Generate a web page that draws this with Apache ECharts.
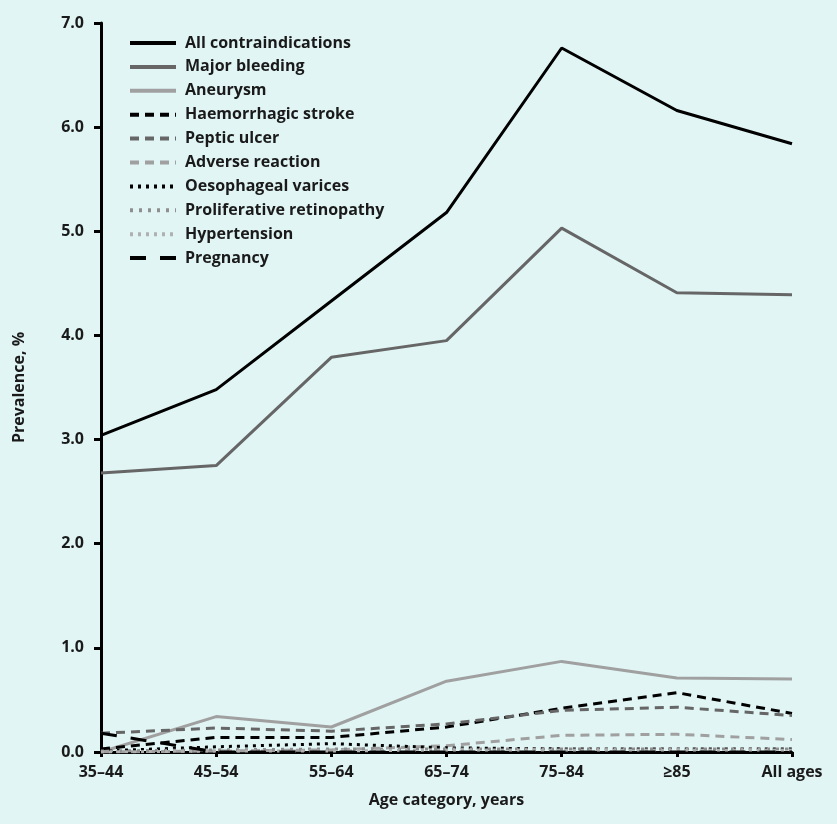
<!DOCTYPE html>
<html><head><meta charset="utf-8">
<script src="https://cdn.jsdelivr.net/npm/echarts@6/dist/echarts.min.js"></script>
<style>html,body{margin:0;padding:0;background:#e0f5f4;}#c{width:837px;height:824px;}</style>
</head><body><div id="c"></div>
<script>
const categories = ['35\u201344','45\u201354','55\u201364','65\u201374','75\u201384','\u226585','All ages'];
const yTicks = [0,1,2,3,4,5,6,7];
const allContra = [3.04,3.48,4.33,5.18,6.76,6.16,5.84];
const majorBleeding = [2.68,2.75,3.79,3.95,5.03,4.41,4.39];
const aneurysm = [0.00,0.34,0.24,0.68,0.87,0.71,0.70];
const haemStroke = [0.03,0.14,0.14,0.24,0.42,0.57,0.37];
const pepticUlcer = [0.18,0.23,0.20,0.27,0.40,0.43,0.35];
const adverseReaction = [0.00,0.01,0.02,0.06,0.16,0.17,0.12];
const oesVarices = [0.01,0.05,0.08,0.04,0.03,0.03,0.03];
const prolifRetino = [0.01,0.02,0.03,0.03,0.03,0.03,0.03];
const hypertension = [0.00,0.01,0.01,0.02,0.02,0.02,0.02];
const pregnancy = [0.18,0.00,0.00,0.00,0.00,0.00,0.00];

const FONT = '"Open Sans"';
const TXT = '#1a1a1a';
function s(name, data, color, type, width){
  return {name, type:'line', data, symbol:'none', smooth:false,
    lineStyle:{color, width: width||3, type, cap:'butt'}, itemStyle:{color}, z:2};
}
const series = [
  s('All contraindications', allContra, '#000000', 'solid'),
  s('Major bleeding', majorBleeding, '#666666', 'solid'),
  s('Aneurysm', aneurysm, '#a0a0a0', 'solid'),
  s('Haemorrhagic stroke', haemStroke, '#000000', [9,6]),
  s('Peptic ulcer', pepticUlcer, '#666666', [9,6]),
  s('Adverse reaction', adverseReaction, '#a0a0a0', [9,6]),
  s('Oesophageal varices', oesVarices, '#000000', [3,5]),
  s('Proliferative retinopathy', prolifRetino, '#8f8f8f', [3,6]),
  s('Hypertension', hypertension, '#b0b0b0', [3,5]),
  s('Pregnancy', pregnancy, '#000000', [16,14])
];
const chart = echarts.init(document.getElementById('c'));
chart.setOption({
  backgroundColor:'#e0f5f4',
  animation:false,
  textStyle:{fontFamily:FONT},
  grid:{left:101,right:45,top:23,bottom:72,containLabel:false},
  legend:{orient:'vertical',left:123,top:30,itemWidth:46,itemHeight:14,itemGap:7.9,
    itemStyle:{opacity:0},
    lineStyle:{width:4},
    textStyle:{fontFamily:FONT,fontWeight:'bold',fontSize:16,lineHeight:16,color:TXT,padding:[0,0,0,4]},
    data: series.map(x=>x.name)},
  xAxis:{type:'category',data:categories,boundaryGap:false,
    axisLine:{lineStyle:{color:'#000',width:3}},
    axisTick:{show:true,length:5,lineStyle:{color:'#000',width:3}},
    axisLabel:{color:TXT,fontFamily:FONT,fontWeight:'bold',fontSize:16,margin:12},
    name:'Age category, years',nameLocation:'middle',nameGap:40,
    nameTextStyle:{color:TXT,fontFamily:FONT,fontWeight:'bold',fontSize:16}},
  yAxis:{type:'value',min:0,max:7,interval:1,
    axisLine:{show:true,lineStyle:{color:'#000',width:3}},
    axisTick:{show:true,length:7,lineStyle:{color:'#000',width:3}},
    splitLine:{show:false},
    axisLabel:{color:TXT,fontFamily:FONT,fontWeight:'bold',fontSize:16,margin:17,
      formatter:v=>yTicks.includes(v)?v.toFixed(1):''},
    name:'Prevalence, %',nameLocation:'middle',nameGap:74,nameRotate:90,
    nameTextStyle:{color:TXT,fontFamily:FONT,fontWeight:'bold',fontSize:16}},
  series
});
</script></body></html>
